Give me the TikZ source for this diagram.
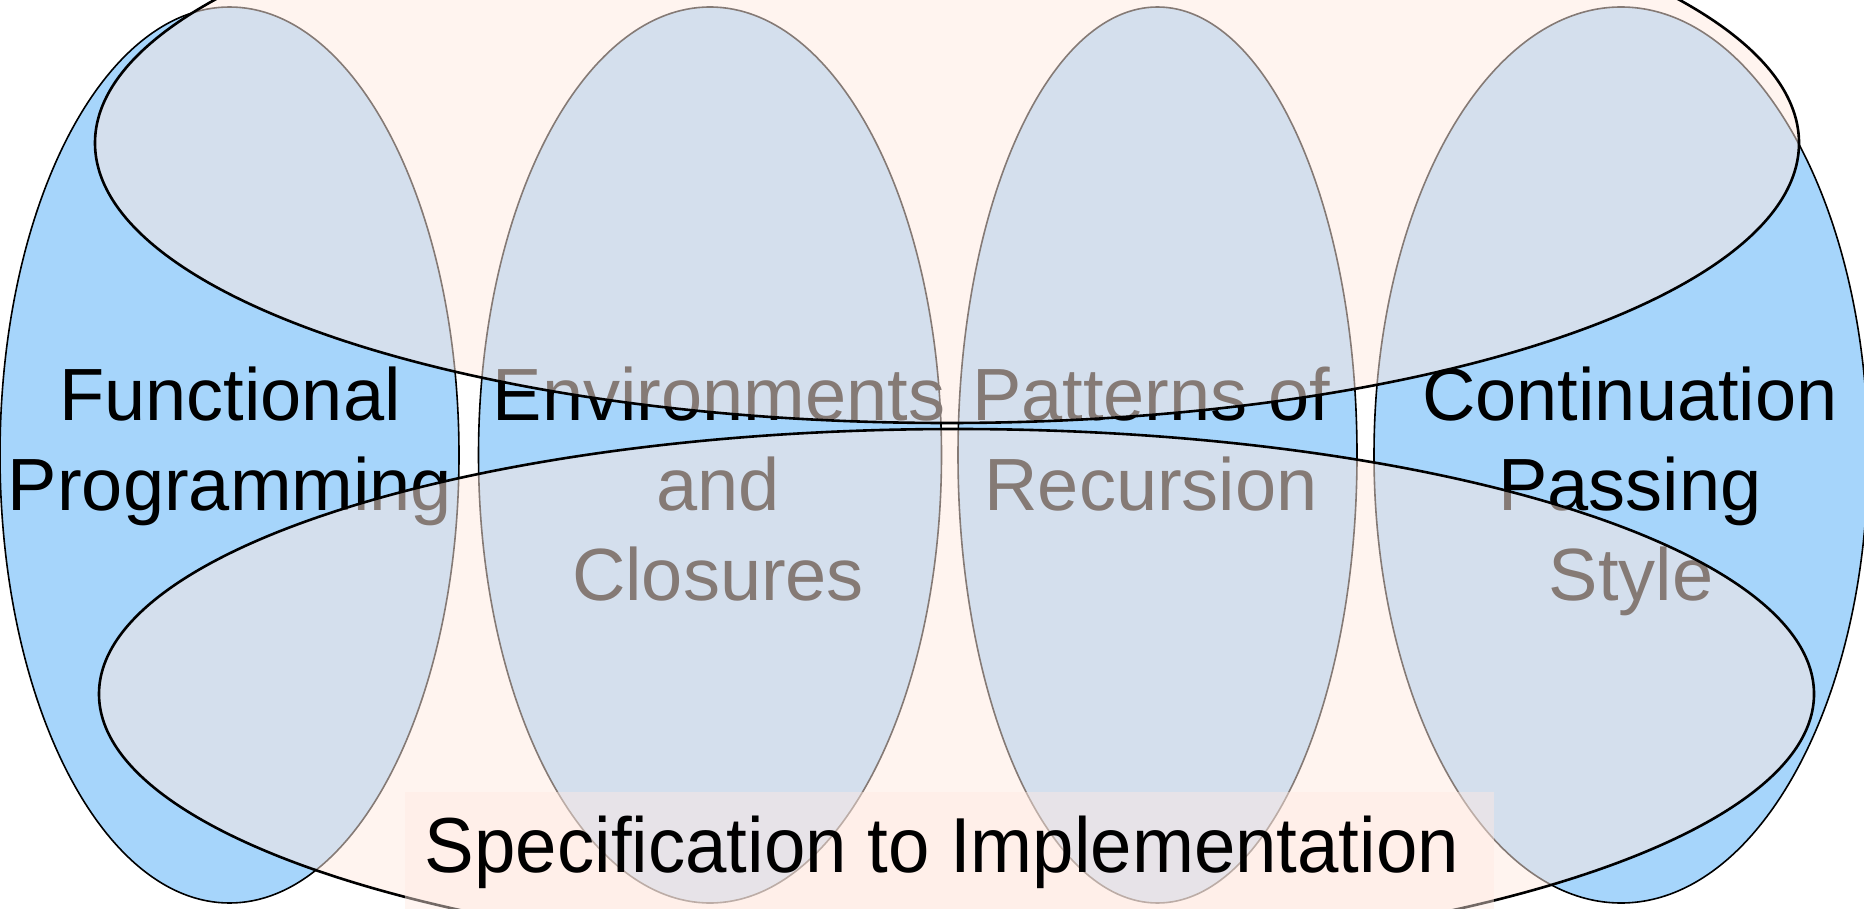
\documentclass[tikz,border=0pt]{standalone}
\usepackage{fontspec}
\setmainfont{Liberation Sans}
\definecolor{cblue}{RGB}{166,213,251}
\definecolor{cpink}{RGB}{255,234,226}
\tikzset{
  vell/.style={fill=cblue, draw=black, line width=1.6pt},
  hell/.style={fill=cpink, fill opacity=0.52, draw=black, line width=2.6pt},
  lbl/.style={font=\fontsize{74}{89}\selectfont, anchor=base, inner sep=0pt, text=black},
  capbox/.style={fill=cpink, fill opacity=0.45, draw=none, inner sep=0pt, anchor=north west},
  captext/.style={font=\fontsize{78}{90}\selectfont, anchor=base, inner sep=0pt, text=black}
}
\begin{document}
\begin{tikzpicture}[x=1pt,y=-1pt]
\useasboundingbox (0,0) rectangle (1864,909);
\clip (0,0) rectangle (1864,909);
\fill[white] (0,0) rectangle (1864,909);
% vertical ellipses
\draw[vell] (229.5,455) ellipse [x radius=229.5pt, y radius=448pt];
\draw[vell] (710,455) ellipse [x radius=231.5pt, y radius=448pt];
\draw[vell] (1157.5,455) ellipse [x radius=199.5pt, y radius=448pt];
\draw[vell] (1621,455) ellipse [x radius=247pt, y radius=448pt];
% texts
\node[lbl] (fp1) at (230,420) {Functional};
\node[lbl] (fp2) at (230,510) {Programming};
\node[lbl] (ec1) at (719,420) {Environments};
\node[lbl] (ec2) at (718,510) {and};
\node[lbl] (ec3) at (718,600) {Closures};
\node[lbl] (pr1) at (1151,420) {Patterns of};
\node[lbl] (pr2) at (1151,510) {Recursion};
\node[lbl] (cp1) at (1630,420) {Continuation};
\node[lbl] (cp2) at (1630,510) {Passing};
\node[lbl] (cp3) at (1631,600) {Style};
% horizontal ellipses
\draw[hell] (947,143) ellipse [x radius=852pt, y radius=280pt];
\draw[hell] (956.5,694) ellipse [x radius=857.5pt, y radius=265pt];
% caption
\node[capbox, minimum width=1089pt, minimum height=117pt] (specbox) at (405,792) {};
\node[captext] (spec) at (942,872) {\scalebox{0.954}[1]{Specification to Implementation}};
\end{tikzpicture}
\end{document}
